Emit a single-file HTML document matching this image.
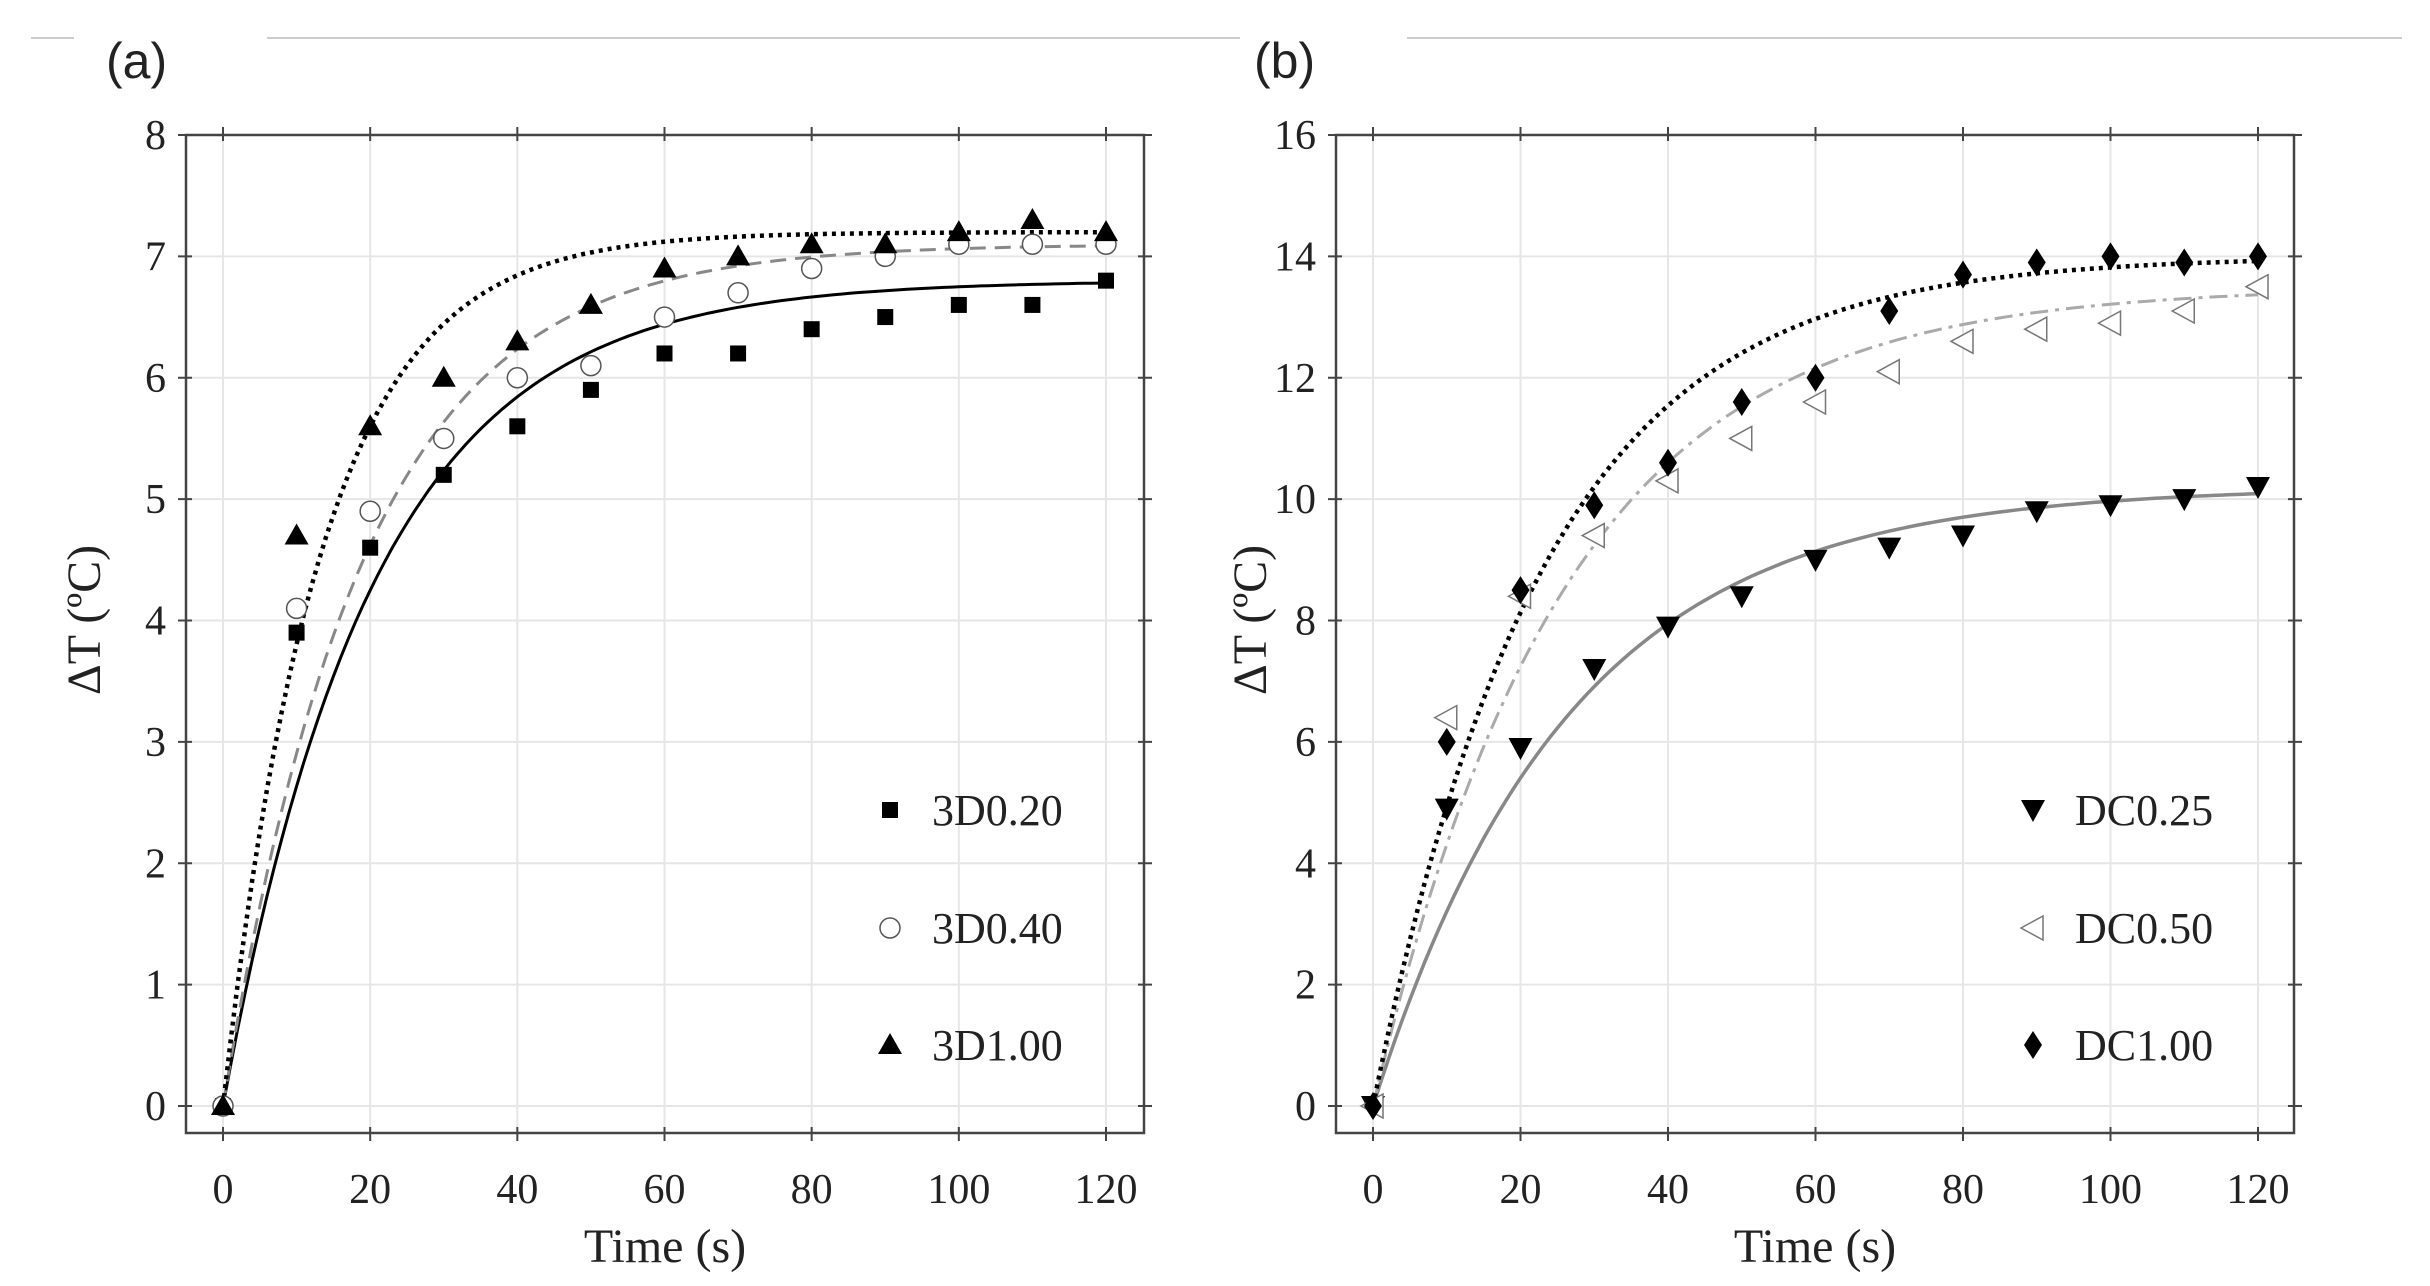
<!DOCTYPE html>
<html><head><meta charset="utf-8"><style>
html,body{margin:0;padding:0;background:#fff;}
svg{display:block;}
text{font-family:"Liberation Serif",serif;fill:#222;}
.lab{font-family:"Liberation Sans",sans-serif;}
</style></head><body>
<svg id="fig" width="2430" height="1286" viewBox="0 0 2430 1286" xmlns="http://www.w3.org/2000/svg">
<line x1="31" y1="38" x2="74" y2="38" stroke="#ccc" stroke-width="2"/>
<line x1="267" y1="38" x2="1240" y2="38" stroke="#ccc" stroke-width="2"/>
<line x1="1407" y1="38" x2="2402" y2="38" stroke="#ccc" stroke-width="2"/>
<text class="lab" x="106" y="78" font-size="50">(a)</text>
<text class="lab" x="1254" y="78" font-size="50">(b)</text>
</svg>
<script>
const xTicks=[0,20,40,60,80,100,120];
const yTicksA=[0,1,2,3,4,5,6,7,8];
const yTicksB=[0,2,4,6,8,10,12,14,16];
const times=[0,10,20,30,40,50,60,70,80,90,100,110,120];
const namesA=["3D0.20","3D0.40","3D1.00"];
const s3D020=[0,3.9,4.6,5.2,5.6,5.9,6.2,6.2,6.4,6.5,6.6,6.6,6.8];
const s3D040=[0,4.1,4.9,5.5,6.0,6.1,6.5,6.7,6.9,7.0,7.1,7.1,7.1];
const s3D100=[0,4.7,5.6,6.0,6.3,6.6,6.9,7.0,7.1,7.1,7.2,7.3,7.2];
const fitAmpA=[6.8,7.1,7.2];
const fitTauA=[20.4,19,13.3];
const namesB=["DC0.25","DC0.50","DC1.00"];
const sDC025=[0,4.9,5.9,7.2,7.9,8.4,9.0,9.2,9.4,9.8,9.9,10.0,10.2];
const sDC050=[0,6.4,8.4,9.4,10.3,11.0,11.6,12.1,12.6,12.8,12.9,13.1,13.5];
const sDC100=[0,6.0,8.5,9.9,10.6,11.6,12.0,13.1,13.7,13.9,14.0,13.9,14.0];
const fitAmpB=[10.2,13.5,14.0];
const fitTauB=[26.5,26,23];

const NS="http://www.w3.org/2000/svg";
const svg=document.getElementById("fig");
function mk(tag,attrs,parent){const e=document.createElementNS(NS,tag);for(const k in attrs)e.setAttribute(k,attrs[k]);(parent||svg).appendChild(e);return e;}

function marker(g,type,cx,cy){
  let e;
  if(type==="square") e=mk("rect",{x:cx-8,y:cy-8,width:16,height:16,fill:"#000"},g);
  else if(type==="circle") e=mk("circle",{cx:cx,cy:cy,r:10,fill:"#fff",stroke:"#555","stroke-width":1.5},g);
  else if(type==="tri") e=mk("polygon",{points:`${cx},${cy-12} ${cx+12},${cy+9} ${cx-12},${cy+9}`,fill:"#000"},g);
  else if(type==="tridown") e=mk("polygon",{points:`${cx-12},${cy-10} ${cx+12},${cy-10} ${cx},${cy+12}`,fill:"#000"},g);
  else if(type==="trileft") e=mk("polygon",{points:`${cx-12},${cy} ${cx+10},${cy-12} ${cx+10},${cy+12}`,fill:"#fff",stroke:"#777","stroke-width":1.5},g);
  else e=mk("polygon",{points:`${cx},${cy-14} ${cx+9},${cy} ${cx},${cy+14} ${cx-9},${cy}`,fill:"#000"},g);
  return e;
}

function panel(id,cfg){
  const g=mk("g",{});
  
  
  const L=cfg.left,R=cfg.right,T=135,B=1133;
  const x0=cfg.x0,x1=cfg.x1,yb=1106,yt=135;
  const xs=v=>x0+(v-0)/120*(x1-x0);
  const ymax=cfg.yTicks[cfg.yTicks.length-1];
  const ys=v=>yb-v/ymax*(yb-yt);
  xTicks.forEach(t=>{const l=mk("line",{x1:xs(t),x2:xs(t),y1:T,y2:B,stroke:"#e6e6e6","stroke-width":2},g);
    });
  cfg.yTicks.forEach(t=>{const l=mk("line",{x1:L,x2:R,y1:ys(t),y2:ys(t),stroke:"#e6e6e6","stroke-width":2},g);
    });
  const fr=mk("rect",{x:L,y:T,width:R-L,height:B-T,fill:"none",stroke:"#444","stroke-width":2.5},g);
  
  xTicks.forEach(t=>{
    mk("line",{x1:xs(t),x2:xs(t),y1:B-6,y2:B+8,stroke:"#444","stroke-width":2},g);
    mk("line",{x1:xs(t),x2:xs(t),y1:T-8,y2:T+6,stroke:"#444","stroke-width":2},g);
    const tx=mk("text",{x:xs(t),y:1203,"font-size":42,"text-anchor":"middle"},g);tx.textContent=t;
    
  });
  cfg.yTicks.forEach(t=>{
    mk("line",{x1:L-8,x2:L+6,y1:ys(t),y2:ys(t),stroke:"#444","stroke-width":2},g);
    mk("line",{x1:R-6,x2:R+8,y1:ys(t),y2:ys(t),stroke:"#444","stroke-width":2},g);
    const tx=mk("text",{x:L-20,y:ys(t)+14,"font-size":42,"text-anchor":"end"},g);tx.textContent=t;
    
  });
  const xt=mk("text",{x:(L+R)/2,y:1262,"font-size":48,"text-anchor":"middle"},g);xt.textContent="Time (s)";
  
  const yx=cfg.yTitleX;
  const yt2=mk("text",{x:yx,y:620,"font-size":48,"text-anchor":"middle",transform:`rotate(-90 ${yx} 620)`},g);yt2.textContent="ΔT (ºC)";
  
  cfg.fits.forEach((f,i)=>{
    let d="";for(let t=0;t<=120;t+=1){const v=cfg.amp[i]*(1-Math.exp(-t/cfg.tau[i]));d+=(t?"L":"M")+xs(t).toFixed(1)+","+ys(v).toFixed(1);}
    const p=mk("path",{d:d,fill:"none",stroke:f.c,"stroke-width":f.w,"stroke-dasharray":f.dash},g);
    
    
  });
  cfg.series.forEach((s,i)=>{
    s.forEach((v,j)=>{const m=marker(g,cfg.markers[i],xs(times[j]),ys(v));
      
      });
    const lm=marker(g,cfg.markers[i],cfg.legX,cfg.legY[i]);
    
    const lt=mk("text",{x:cfg.legX+42,y:cfg.legY[i]+15,"font-size":44},g);lt.textContent=cfg.names[i];
    
  });
}
panel("panel-a",{left:186,right:1144,x0:223,x1:1106,yTicks:yTicksA,yTitleX:100,
  names:namesA,series:[s3D020,s3D040,s3D100],markers:["square","circle","tri"],
  amp:fitAmpA,tau:fitTauA,
  fits:[{c:"#000",w:3,dash:"none"},{c:"#888",w:3,dash:"16 9"},{c:"#000",w:4.5,dash:"4 5"}],
  legX:890,legY:[810,928,1045]});
panel("panel-b",{left:1336,right:2294,x0:1373,x1:2258,yTicks:yTicksB,yTitleX:1266,
  names:namesB,series:[sDC025,sDC050,sDC100],markers:["tridown","trileft","diamond"],
  amp:fitAmpB,tau:fitTauB,
  fits:[{c:"#888",w:3.5,dash:"none"},{c:"#aaa",w:3,dash:"18 7 4 7"},{c:"#000",w:4.5,dash:"4 5"}],
  legX:2033,legY:[810,928,1045]});
</script>
</body></html>
